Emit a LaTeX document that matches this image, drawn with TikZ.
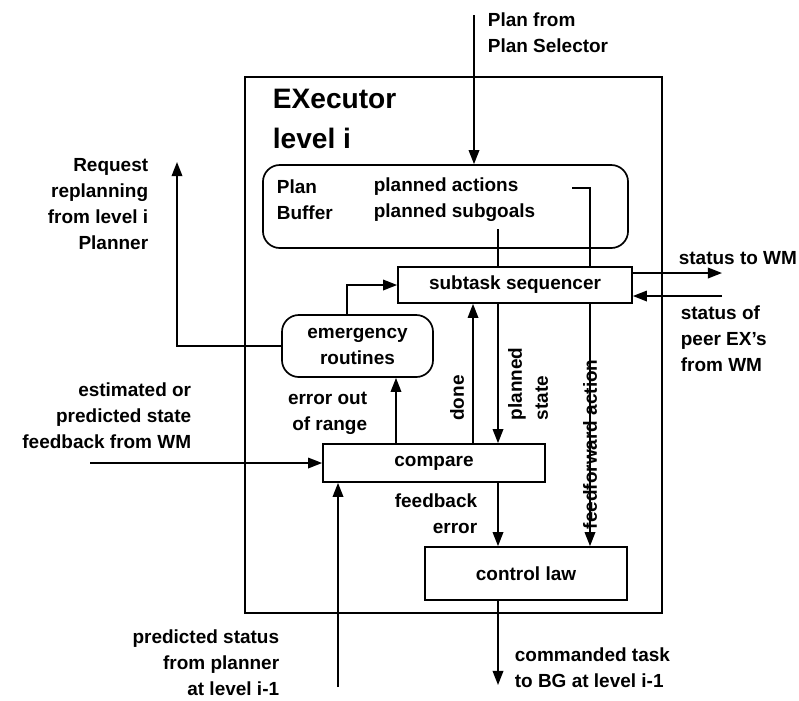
\documentclass[tikz,border=0pt]{standalone}
\usepackage{fontspec}
\setmainfont{Liberation Sans}
\usetikzlibrary{calc}
\usetikzlibrary{arrows.meta}
\newcommand\lbl[0]{\bfseries\fontsize{13.5}{18.5}\selectfont}

\begin{document}
\begin{tikzpicture}[x=0.025cm,y=-0.025cm,
  line width=1.2pt,
  arr/.style={-{Triangle[length=10pt,width=7.5pt]}},
  txt/.style={font=\lbl,inner sep=0pt},
  blk/.style={draw,line width=1.2pt,font=\lbl,minimum width=#1,inner sep=0pt},
  rnd/.style={blk=#1,rounded corners=12pt}]

\useasboundingbox (0,0) rectangle (799,700);

\node[draw,line width=1.2pt,minimum width=10.425cm,minimum height=13.4cm] (exec) at (453.5,345) {};
\node[txt,anchor=west,align=left,font=\bfseries\fontsize{20}{28}\selectfont] (title) at (272,119) {EXecutor\\level i};

\node[rnd=9.125cm,minimum height=2.075cm] (buf) at (445.5,206.5) {};
\node[txt,anchor=west,align=left] (bufname) at (276,200) {Plan\\Buffer};
\node[txt,anchor=west,align=left] (bufitems) at (373,200) {planned actions\\planned subgoals};

\node[blk=5.85cm,minimum height=0.9cm] (seq) at (515,285) {subtask sequencer};
\node[rnd=3.775cm,minimum height=1.55cm,align=center] (emer) at (357.5,346) {emergency\\routines};
\node[blk=5.55cm,minimum height=0.95cm] (comp) at (434,463) {compare};
\node[blk=5.05cm,minimum height=1.325cm] (law) at (526,573.5) {control law};

\coordinate (sel) at (474,15);
\coordinate (sg) at (498,229);
\coordinate (pa) at (572,188);
\coordinate (ff) at (590,188);
\coordinate (replan) at (177,162);
\coordinate (wmout) at (722,273);
\coordinate (peer) at (722,296);
\coordinate (est) at (90,463);
\coordinate (pred) at (338,687);
\coordinate (cmd) at (498,685);

% inputs from above
\draw[arr] (sel) -- (sel |- buf.north);
\node[txt,anchor=west,align=left] (selname) at (487,33) {Plan from\\Plan Selector};

\draw (sg) -- (sg |- seq.north);
\draw (pa) -- (ff) -- (ff |- seq.north);
\draw[arr] (ff |- seq.south) -- (ff |- law.north) node[txt,pos=0.58,rotate=90] {feedforward action};

% world model
\draw[arr] (seq.east |- wmout) -- (wmout);
\node[txt,anchor=west] (wmname) at (678,258) {status to WM};
\draw[arr] (peer) -- (peer -| seq.east);
\node[txt,anchor=north west,align=left] (peername) at (680,305) {status of\\peer EX's\\from WM};

% emergency
\draw[arr] ([xshift=-0.26cm]emer.north) |- (seq.west);
\draw[arr] (emer.west) -| (replan);
\node[txt,anchor=north east,align=right] (replanname) at (149,158) {Request\\replanning\\from level i\\Planner};

\draw[arr] ([xshift=-0.95cm]comp.north) -- ([xshift=-0.95cm]comp.north |- emer.south);
\node[txt,anchor=east,align=right] (rangename) at (368,413) {error out\\of range};

\draw[arr] ([xshift=0.975cm]comp.north) -- ([xshift=0.975cm]comp.north |- seq.south);
\node[txt,rotate=90] (donename) at (457,398) {done};

\draw[arr] (sg |- seq.south) -- (sg |- comp.north);
\node[txt,rotate=90,align=left] (psname) at (528,384) {planned\\state};

% feedback
\draw[arr] (est) -- (comp.west);
\node[txt,anchor=south east,align=right] (estname) at (192,450) {estimated or\\predicted state\\feedback from WM};

\draw[arr] (pred) -- (pred |- comp.south);
\node[txt,anchor=east,align=right] (predname) at (280,663) {predicted status\\from planner\\at level i-1};

\draw[arr] (sg |- comp.south) -- (sg |- law.north);
\node[txt,anchor=east,align=right] (fbname) at (478,514) {feedback\\error};

\draw[arr] (law.south -| cmd) -- (cmd);
\node[txt,anchor=west,align=left] (cmdname) at (514,668) {commanded task\\to BG at level i-1};

\end{tikzpicture}
\end{document}
